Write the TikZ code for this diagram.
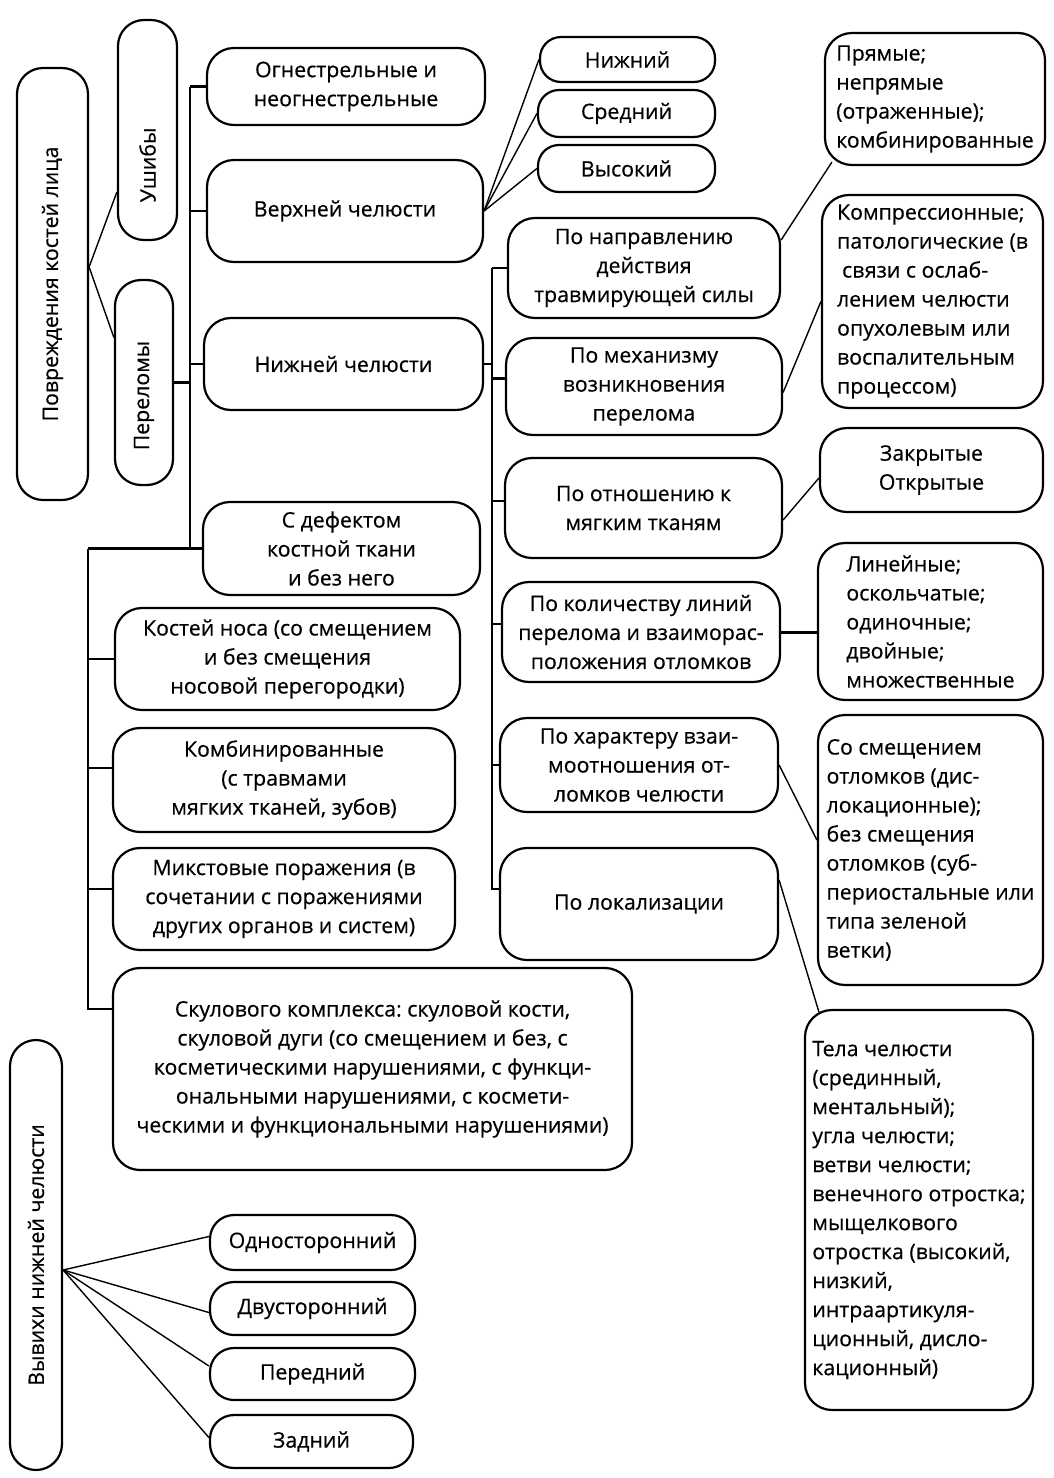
\documentclass[tikz,border=0pt]{standalone}
\usepackage{fontspec}
\setmainfont{Open Sans}[UprightFeatures={FakeBold=0.5}]
\usetikzlibrary{calc}
\newcommand\fsz{\fontsize{21.3}{29}\selectfont}
\frenchspacing
\tikzset{
  bx/.style={draw, line width=2.2pt, rounded corners=27pt, align=center,
    inner xsep=4pt, inner ysep=2pt, font=\fsz},
  vbx/.style={draw, line width=2.2pt, rounded corners=26pt, rotate=90,
    inner sep=2pt, font=\fsz},
  tl/.style={line width=2.4pt},
  ln/.style={line width=1.4pt},
}
\newcommand\rb[6][]{\node[bx,minimum width={(#4-#2)*1pt},minimum height={(#5-#3)*1pt},#1] (#6) at ({(#2+#4)/2},{(#3+#5)/2})}
\newcommand\rbv[6][]{\node[vbx,minimum width={(#5-#3)*1pt},minimum height={(#4-#2)*1pt},#1] (#6) at ({(#2+#4)/2},{(#3+#5)/2})}
\begin{document}
\begin{tikzpicture}[x=1pt,y=-1pt]
\useasboundingbox[fill=white] (0,0) rectangle (1054,1478);

% left column (rotated nodes: page-right side is .south, page-left side is .north)
\rbv{17}{68}{88}{500}{pov}{Повреждения костей лица};
\rbv{118}{20}{177}{240}{ush}{Ушибы\hspace*{70pt}};
\rbv{115}{280}{173}{485}{per}{Переломы\hspace*{26pt}};

% second column
\rb{207}{48}{485}{125}{ogn}{Огнестрельные и\\неогнестрельные};
\rb{207}{160}{483}{262}{ver}{Верхней челюсти};
\rb{204}{318}{483}{410}{nizh}{Нижней челюсти};
\rb{203}{502}{480}{595}{sdef}{С дефектом\\костной ткани\\и без него};
\rb{115}{608}{460}{710}{nos}{Костей носа (со смещением\\и без смещения\\носовой перегородки)};
\rb{113}{728}{455}{832}{komb}{Комбинированные\\(с травмами\\мягких тканей, зубов)};
\rb{113}{848}{455}{950}{mikst}{Микстовые поражения (в\\сочетании с поражениями\\других органов и систем)};
\rb{113}{968}{632}{1170}{skul}{Скулового комплекса: скуловой кости,\\скуловой дуги (со смещением и без, с\\косметическими нарушениями, с функци-\\ональными нарушениями, с космети-\\ческими и функциональными нарушениями)};

% small boxes
\rb[rounded corners=21pt]{540}{37}{715}{82}{nizhn}{Нижний};
\rb[rounded corners=21pt]{538}{90}{715}{137}{sred}{Средний};
\rb[rounded corners=21pt]{538}{145}{715}{192}{vys}{Высокий};

% third column
\rb{508}{218}{780}{318}{nap}{По направлению\\действия\\травмирующей силы};
\rb{506}{338}{782}{435}{meh}{По механизму\\возникновения\\перелома};
\rb{505}{458}{782}{558}{otn}{По отношению к\\мягким тканям};
\rb{502}{582}{780}{682}{kol}{По количеству линий\\перелома и взаиморас-\\положения отломков};
\rb{500}{718}{778}{812}{har}{По характеру взаи-\\моотношения от-\\ломков челюсти};
\rb{500}{848}{778}{960}{lok}{По локализации};

% right column
\rb[align=left]{825}{33}{1045}{165}{pr}{Прямые;\\непрямые\\(отраженные);\\комбинированные};
\rb[align=left]{822}{195}{1043}{408}{komp}{Компрессионные;\\патологические (в\\\hspace*{5pt}связи с ослаб-\\лением челюсти\\опухолевым или\\воспалительным\\процессом)};
\rb{820}{428}{1043}{512}{zakr}{Закрытые\\Открытые};
\rb[align=left]{818}{543}{1043}{700}{lin}{Линейные;\\оскольчатые;\\одиночные;\\двойные;\\множественные};
\rb[align=left]{818}{715}{1043}{985}{smesh}{Со смещением\\отломков (дис-\\локационные);\\без смещения\\отломков (суб-\\периостальные или\\типа зеленой\\ветки)};
\rb[align=left]{805}{1010}{1033}{1410}{tela}{Тела челюсти\\(срединный,\\ментальный);\\угла челюсти;\\ветви челюсти;\\венечного отростка;\\мыщелкового\\отростка (высокий,\\низкий,\\интраартикуля-\\ционный, дисло-\\кационный)};

% bottom
\rbv{10}{1040}{62}{1470}{vyv}{Вывихи нижней челюсти};
\rb[rounded corners=24pt]{210}{1215}{415}{1270}{odn}{Односторонний};
\rb[rounded corners=24pt]{210}{1282}{415}{1335}{dvu}{Двусторонний};
\rb[rounded corners=24pt]{210}{1348}{415}{1400}{pere}{Передний};
\rb[rounded corners=24pt]{210}{1415}{413}{1468}{zad}{Задний};

% connectors: main
\coordinate (pj) at ($(pov.south)+(0,-17)$);
\draw[ln] (pj) -- ($(ush.north)+(0,62)$);
\draw[ln] (pj) -- ($(per.north)+(0,-45)$);

% spine 1
\coordinate (s1) at (190,0);
\draw[tl] (ogn.west -| s1) -- (sdef.west -| s1);
\draw[tl] (ogn.west) -- (ogn.west -| s1);
\draw[tl] (ver.west) -- (ver.west -| s1);
\draw[tl] (nizh.west) -- (nizh.west -| s1);
\draw[tl] (per.south) -- (per.south -| s1);
\coordinate (s0) at (88,0);
\draw[tl] (sdef.west) -- (sdef.west -| s0);
\coordinate (skb) at ($(skul.west)+(0,-60)$);
\draw[tl] (sdef.west -| s0) -- (skb -| s0) -- (skb);
\draw[tl] (nos.west) -- (nos.west -| s0);
\draw[tl] ($(komb.west)+(0,-12)$) -- ($(komb.west -| s0)+(0,-12)$);
\draw[tl] ($(mikst.west)+(0,-10)$) -- ($(mikst.west -| s0)+(0,-10)$);

% upper jaw levels
\draw[ln] (ver.east) -- (nizhn.west);
\draw[ln] (ver.east) -- (sred.west);
\draw[ln] (ver.east) -- (vys.west);

% spine 2
\coordinate (s2) at (492,0);
\coordinate (lkb) at ($(lok.west)+(0,-15)$);
\draw[tl] (nap.west -| s2) -- (lkb -| s2) -- (lkb);
\draw[tl] (nizh.east) -- (nizh.east -| s2);
\draw[tl] (nap.west) -- (nap.west -| s2);
\draw[tl] ($(meh.west)+(0,-8)$) -- ($(meh.west -| s2)+(0,-8)$);
\draw[tl] ($(otn.west)+(0,-7)$) -- ($(otn.west -| s2)+(0,-7)$);
\draw[tl] ($(kol.west)+(0,-8)$) -- ($(kol.west -| s2)+(0,-8)$);
\draw[tl] (har.west) -- (har.west -| s2);

% right connectors
\draw[ln] ($(nap.east)+(0,-28)$) -- ($(pr.south west)+(8,-4)$);
\draw[ln] ($(meh.east)+(0,6)$) -- (komp.west);
\draw[ln] ($(otn.east)+(0,12)$) -- ($(zakr.west)+(0,8)$);
\draw[line width=3pt] (kol.east) -- (kol.east -| lin.west);
\draw[ln] (har.east) -- ($(smesh.west)+(0,-10)$);
\draw[ln] ($(lok.east)+(0,-24)$) -- ($(tela.north west)+(15,3)$);

% dislocations
\coordinate (vj) at ($(vyv.south)+(0,15)$);
\draw[ln] (vj) -- ($(odn.west)+(0,-6)$);
\draw[ln] (vj) -- ($(dvu.west)+(0,4)$);
\draw[ln] (vj) -- ($(pere.west)+(0,-8)$);
\draw[ln] (vj) -- ($(zad.west)+(0,-4)$);
\end{tikzpicture}
\end{document}
